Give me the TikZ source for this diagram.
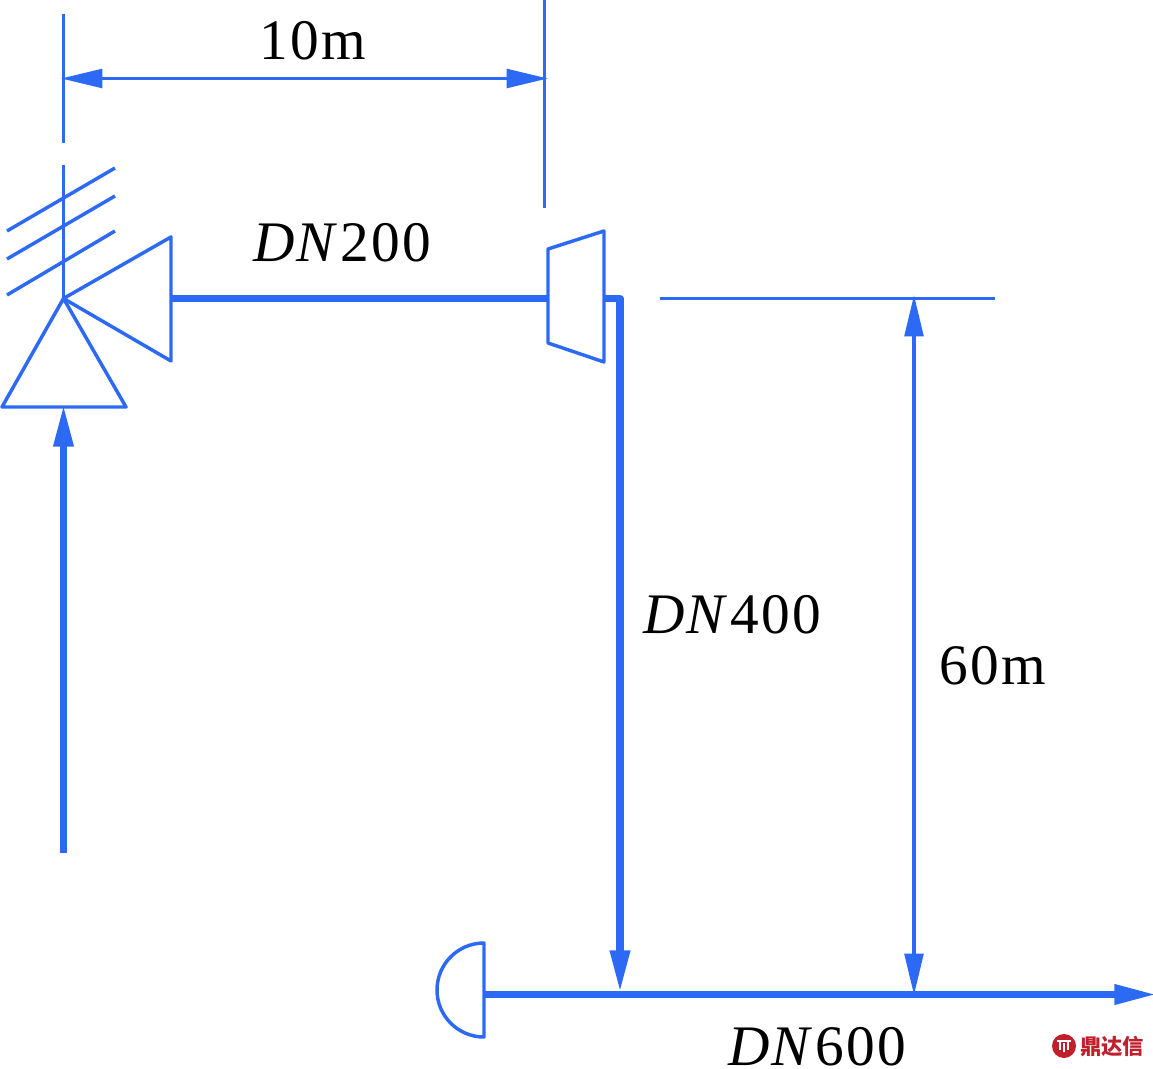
\documentclass[tikz,border=0pt]{standalone}
\usepackage{fontspec}
\setmainfont[LetterSpace=4]{Liberation Serif}
\newfontfamily\cjkmark{Noto Sans CJK SC}
\usetikzlibrary{arrows.meta}
\definecolor{pipeblue}{HTML}{2C6AF5}
\definecolor{markred}{HTML}{C0202C}
\tikzset{every picture/.style={line width=0.75pt}}
\tikzset{
	thinline/.style={draw=pipeblue,line width=2.6pt,line join=round},
	thickline/.style={draw=pipeblue,line width=5.7pt},
	dimarrow/.style={thinline,{Triangle[length=31pt,width=14pt,fill=pipeblue]}-{Triangle[length=31pt,width=14pt,fill=pipeblue]}},
	flowarrow/.style={thickline,-{Triangle[length=32pt,width=14pt,fill=pipeblue]}},
	dimtext/.style={text=black,font=\fontsize{43}{48}\selectfont,inner sep=0pt}
}

\begin{document}
\begin{tikzpicture}[x=0.75pt,y=0.75pt,yscale=-1]
		\useasboundingbox (0,0) rectangle (1153,1069);

		% Points
		\coordinate (apex) at (63.5,298.5);
		\coordinate (tankin) at (171,298.5);
		\coordinate (reducerin) at (548,298.5);
		\coordinate (reducerout) at (604,298.5);
		\coordinate (bend) at (620,298.5);
		\coordinate (tee) at (620,993);
		\coordinate (mainstart) at (484,994.5);
		\coordinate (mainend) at (1157,994.5);
		\coordinate (risestart) at (63.5,853);
		\coordinate (risetip) at (63.5,404);

		% Dimension 10m
		\draw[thinline] (63.5,14) coordinate (lefttop) -- (63.5,143) coordinate (leftend);
		\draw[thinline] (63.5,165) coordinate (stemtop) -- (apex);
		\draw[thinline] (544.5,0) coordinate (righttop) -- (544.5,208) coordinate (rightend);
		\draw[dimarrow] (61,78.5) coordinate (dimleft) -- (548,78.5) coordinate (dimright);

		% Hatching
		\draw[thinline] (7,231) -- (115,168);
		\draw[thinline] (7,259) -- (115,196);
		\draw[thinline] (7,295) -- (115,231);

		% Triangles
		\draw[thinline] (apex) -- (171,237) -- (171,361) -- cycle;
		\draw[thinline] (apex) -- (2,407) -- (126,407) -- cycle;

		% Reducer
		\draw[thinline] (548,249) -- (604,231) -- (604,362) -- (548,343) -- cycle;

		% Pipes
		\draw[flowarrow] (risestart) -- (risetip);
		\draw[thickline] (tankin) -- (reducerin);
		\draw[flowarrow,line join=round] (reducerout) -- (bend) -- (tee);
		\draw[flowarrow] (mainstart) -- (mainend);

		% Cap
		\draw[thinline] (484,1037) arc (90:270:47) -- cycle;

		% Dimension 60m
		\draw[thinline] (660,298.5) coordinate (levelleft) -- (995,298.5) coordinate (levelright);
		\draw[dimarrow] (914,295) coordinate (dimtop) -- (914,995) coordinate (dimbottom);

		% Text Node
		\node[dimtext] (len10) at (313,41) {10m};
		% Text Node
		\node[dimtext] (dn200) at (342,243) {\textit{DN}200};
		% Text Node
		\node[dimtext] (dn400) at (732,615) {\textit{DN}400};
		% Text Node
		\node[dimtext] (len60) at (993,666) {60m};
		% Text Node
		\node[dimtext] (dn600) at (817,1047) {\textit{DN}600};

		% Watermark
		\fill[markred] (1064,1046) circle (12);
		\draw[white,line width=1pt] (1057,1041) -- (1071,1041) (1060,1041) -- (1060,1050) (1068,1041) -- (1068,1050) (1064,1043) -- (1064,1052);
		\node[text=markred,inner sep=0pt,font=\cjkmark\bfseries\fontsize{16}{16}\selectfont] (mark) at (1112,1046) {鼎达信};

		\end{tikzpicture}
\end{document}
